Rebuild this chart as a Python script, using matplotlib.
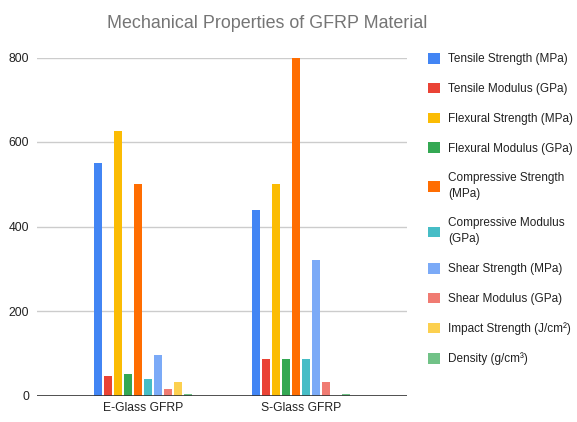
import matplotlib.pyplot as plt
from matplotlib.patches import Patch
import numpy as np

plt.rcParams['font.family'] = ['Liberation Sans', 'DejaVu Sans']

groups = ['E-Glass GFRP', 'S-Glass GFRP']
props = ['Tensile Strength (MPa)', 'Tensile Modulus (GPa)', 'Flexural Strength (MPa)',
         'Flexural Modulus (GPa)', 'Compressive Strength\n(MPa)', 'Compressive Modulus\n(GPa)',
         'Shear Strength (MPa)', 'Shear Modulus (GPa)', 'Impact Strength (J/cm²)',
         'Density (g/cm³)']
e_glass = [550, 45, 625, 50, 500, 40, 97, 15, 33, 2.5]
s_glass = [440, 86, 500, 86, 800, 86, 320, 33, 0, 2.5]
colors = ['#4285F4', '#EA4335', '#FBBC04', '#34A853', '#FF6D01',
          '#46BDC6', '#7BAAF7', '#F07B72', '#FCD04F', '#71C287']

fig = plt.figure(figsize=(5.77, 4.22), dpi=100)
ax = fig.add_axes([37/577, (422-395.5)/422, 370/577, 338/422])

x = np.arange(len(groups))
step = 0.0636
w = 0.0506
for i, p in enumerate(props):
    vals = [e_glass[i], s_glass[i]]
    ax.bar(x + (i - 4.5) * step, vals, width=w, color=colors[i], label=p, zorder=3)

ax.set_xlim(-0.67, 1.67)
ax.set_ylim(0, 800)
ax.set_yticks([0, 200, 400, 600, 800])
ax.set_xticks(x)
ax.set_xticklabels(groups)
ax.grid(axis='y', color='#cccccc', linewidth=1, zorder=0)
ax.axhline(0, color='#333333', linewidth=1.2, zorder=4)
for s in ax.spines.values():
    s.set_visible(False)
ax.tick_params(axis='both', length=0, labelsize=8.7, colors='#222222')
ax.tick_params(axis='y', pad=5.5)
ax.tick_params(axis='x', pad=5)

fig.text(267.5/577, 1 - 28.3/422, 'Mechanical Properties of GFRP Material',
         ha='center', va='baseline', fontsize=12.9, color='#757575')

handles = [Patch(facecolor=c, edgecolor='none') for c in colors]
leg = fig.legend(handles, props, loc='upper left', bbox_to_anchor=(428/577, 1 - 53/422),
                 frameon=False, fontsize=8.5,
                 handlelength=1.02, handleheight=1.02, handletextpad=0.68,
                 labelspacing=1.47, borderaxespad=0, borderpad=0, labelcolor='#222222')
for t in leg.get_texts():
    t.set_linespacing(1.45)

fig.savefig('out.png', dpi=100)
